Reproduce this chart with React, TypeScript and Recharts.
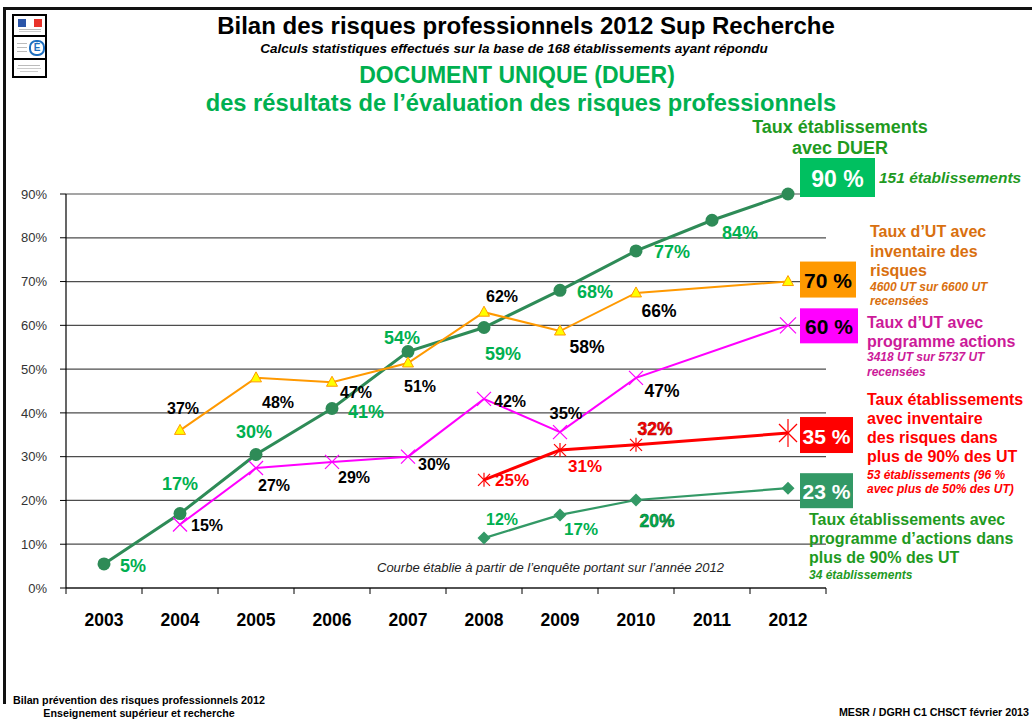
import React from 'react';
import { LineChart, Line, XAxis, YAxis, CartesianGrid, LabelList } from 'recharts';

const FONT = 'Arial, "Liberation Sans", Helvetica, sans-serif';

// ---------- data ----------
const years = [2003, 2004, 2005, 2006, 2007, 2008, 2009, 2010, 2011, 2012];
const yTicks = [0, 10, 20, 30, 40, 50, 60, 70, 80, 90];

const duerValues = [5.5, 17, 30.5, 41, 54, 59.5, 68, 77, 84, 90];
const duerLabels = ['5%', '17%', '30%', '41%', '54%', '59%', '68%', '77%', '84%', '90 %'];

const invUtValues = [null, 36, 48, 47, 51.4, 63, 58.7, 67.4, null, 70];
const invUtLabels = [null, '37%', '48%', '47%', '51%', '62%', '58%', '66%', null, '70 %'];

const progUtValues = [null, 14.5, 27.4, 28.8, 30, 43.2, 35.6, 48, null, 60];
const progUtLabels = [null, '15%', '27%', '29%', '30%', '42%', '35%', '47%', null, '60 %'];

const inv90Values = [null, null, null, null, null, 24.7, 31.5, 32.7, null, 35.4];
const inv90Labels = [null, null, null, null, null, '25%', '31%', '32%', null, '35 %'];

const prog90Values = [null, null, null, null, null, 11.4, 16.7, 20.1, null, 22.8];
const prog90Labels = [null, null, null, null, null, '12%', '17%', '20%', null, '23 %'];

const data = years.map((year, i) => ({
  year,
  duer: duerValues[i],
  duerLabel: duerLabels[i],
  invUt: invUtValues[i],
  invUtLabel: invUtLabels[i],
  progUt: progUtValues[i],
  progUtLabel: progUtLabels[i],
  inv90: inv90Values[i],
  inv90Label: inv90Labels[i],
  prog90: prog90Values[i],
  prog90Label: prog90Labels[i],
}));

// ---------- styles (label placement relative to each point) ----------
const duerOffsets = [[29, 2], [0, -30], [-2, -22], [34, 3], [-6, -14], [19, 26], [35, 2], [36, 1], [28, 13], [0, 0]];
const duerSizes = [18, 18, 18, 18, 18, 18, 18, 18, 18, 18];
const invUtOffsets = [[0, 0], [3, -22], [22, 25], [24, 10], [12, 24], [18, -16], [27, 16], [23, 18], [0, 0], [0, 0]];
const invUtSizes = [16, 16, 16, 16, 16, 16, 17.5, 17.5, 16, 16];
const progUtOffsets = [[0, 0], [27, 1], [18, 17], [22, 16], [26, 8], [26, 3], [6, -19], [26, 13], [0, 0], [0, 0]];
const progUtSizes = [16, 16, 16, 16, 16, 16, 16.5, 17.5, 16, 16];
const inv90Offsets = [[0, 0], [0, 0], [0, 0], [0, 0], [0, 0], [28, 1], [25, 16], [19, -16], [0, 0], [0, 0]];
const inv90Sizes = [16, 16, 16, 16, 16, 17, 17, 17.5, 16, 16];
const prog90Offsets = [[0, 0], [0, 0], [0, 0], [0, 0], [0, 0], [18, -19], [21, 15], [21, 21], [0, 0], [0, 0]];
const prog90Sizes = [16, 16, 16, 16, 16, 16, 17, 17.5, 16, 16];

type Box = { top: number; w: number; h: number; fill: string; color: string; size: number };

function makeLabel(
  labels: (string | null)[],
  offsets: number[][],
  sizes: number[],
  color: string,
  box: Box,
  outline?: string,
) {
  return (props: any) => {
    const { x, y, value } = props;
    if (value == null || x == null || y == null || isNaN(x) || isNaN(y)) return null;
    const i = labels.indexOf(value);
    if (i === labels.length - 1) {
      const bx = x + 12;
      const by = y + box.top;
      return (
        <g>
          <rect x={bx} y={by} width={box.w} height={box.h} fill={box.fill} />
          <text
            x={bx + box.w / 2}
            y={by + box.h / 2 + 1}
            textAnchor="middle"
            dominantBaseline="central"
            fontFamily={FONT}
            fontWeight="bold"
            fontSize={box.size}
            fill={box.color}
          >
            {value}
          </text>
        </g>
      );
    }
    const [dx, dy] = offsets[i] || [0, 0];
    return (
      <text
        x={x + dx}
        y={y + dy}
        textAnchor="middle"
        dominantBaseline="central"
        fontFamily={FONT}
        fontWeight="bold"
        fontSize={sizes[i]}
        fill={color}
        stroke={outline && i === 7 ? outline : undefined}
        strokeWidth={outline && i === 7 ? 0.5 : undefined}
      >
        {value}
      </text>
    );
  };
}

const last = years.length - 1;

const circleDot = (p: any) =>
  p.cy == null ? <g key={`c${p.index}`} /> : <circle key={`c${p.index}`} cx={p.cx} cy={p.cy} r={6.5} fill="#2E8B57" />;

const triangleDot = (p: any) => {
  if (p.cy == null) return <g key={`t${p.index}`} />;
  const { cx, cy } = p;
  return (
    <polygon
      key={`t${p.index}`}
      points={`${cx},${cy - 6} ${cx - 5.5},${cy + 4} ${cx + 5.5},${cy + 4}`}
      fill="#FFFF00"
      stroke="#FF9900"
      strokeWidth={1}
    />
  );
};

const crossDot = (p: any) => {
  if (p.cy == null) return <g key={`x${p.index}`} />;
  const { cx, cy } = p;
  const r = p.index === last ? 8 : 7;
  return (
    <g key={`x${p.index}`} stroke="#FF00FF" strokeWidth={1.2}>
      <line x1={cx - r} y1={cy - r} x2={cx + r} y2={cy + r} />
      <line x1={cx - r} y1={cy + r} x2={cx + r} y2={cy - r} />
    </g>
  );
};

const starDot = (p: any) => {
  if (p.cy == null) return <g key={`s${p.index}`} />;
  const { cx, cy } = p;
  const big = p.index === last;
  const r = big ? 9 : 6;
  const v = big ? 14 : 7;
  return (
    <g key={`s${p.index}`} stroke="#FF0000" strokeWidth={1.2}>
      <line x1={cx - r} y1={cy - r} x2={cx + r} y2={cy + r} />
      <line x1={cx - r} y1={cy + r} x2={cx + r} y2={cy - r} />
      <line x1={cx} y1={cy - v} x2={cx} y2={cy + v} />
    </g>
  );
};

const diamondDot = (p: any) => {
  if (p.cy == null) return <g key={`d${p.index}`} />;
  const { cx, cy } = p;
  return (
    <polygon
      key={`d${p.index}`}
      points={`${cx},${cy - 6.5} ${cx + 6.5},${cy} ${cx},${cy + 6.5} ${cx - 6.5},${cy}`}
      fill="#339966"
    />
  );
};

const xTicks: number[] = [];
years.forEach((y) => {
  xTicks.push(y - 0.5);
  xTicks.push(y);
});
xTicks.push(years[last] + 0.5);

const XTick = (props: any) => {
  const { x, y, payload } = props;
  const v = payload.value;
  if (Number.isInteger(v)) {
    return (
      <text x={x} y={y + 32} textAnchor="middle" dominantBaseline="central" fontFamily={FONT} fontWeight="bold" fontSize={17.5} fill="#000">
        {v}
      </text>
    );
  }
  return <line x1={x} x2={x} y1={y} y2={y + 6} stroke="#000" strokeWidth={1} />;
};

type TProps = {
  x: number;
  y: number;
  size: number;
  color?: string;
  bold?: boolean;
  italic?: boolean;
  align?: 'left' | 'center' | 'right';
  children: React.ReactNode;
};

const T = ({ x, y, size, color = '#000', bold = true, italic = false, align = 'left', children }: TProps) => {
  const style: React.CSSProperties = {
    position: 'absolute',
    top: y - size * 0.5,
    fontSize: size,
    lineHeight: `${size}px`,
    fontWeight: bold ? 'bold' : 'normal',
    fontStyle: italic ? 'italic' : 'normal',
    color,
    whiteSpace: 'nowrap',
    fontFamily: FONT,
  };
  if (align === 'center') {
    style.left = x - 400;
    style.width = 800;
    style.textAlign = 'center';
  } else if (align === 'right') {
    style.left = x - 800;
    style.width = 800;
    style.textAlign = 'right';
  } else {
    style.left = x;
  }
  return <div style={style}>{children}</div>;
};

const GREEN_T = '#1F9A1F';
const ORANGE_T = '#D9700F';
const MAGENTA_T = '#CC1A99';
const RED_T = '#FF0000';

const Logo = () => (
  <div style={{ position: 'absolute', left: 12, top: 14, width: 31, height: 60, border: '2px solid #000', background: '#fff' }}>
    <div style={{ height: 19, borderBottom: '2px solid #000', position: 'relative' }}>
      <div style={{ position: 'absolute', left: 4, top: 3, width: 8, height: 8, background: '#2B55A8' }} />
      <div style={{ position: 'absolute', left: 12, top: 3, width: 8, height: 8, background: '#fff' }} />
      <div style={{ position: 'absolute', left: 20, top: 3, width: 8, height: 8, background: '#E8332B' }} />
      <div style={{ position: 'absolute', left: 5, top: 13, width: 22, height: 1, background: '#bbb' }} />
      <div style={{ position: 'absolute', left: 5, top: 15, width: 22, height: 1, background: '#ccc' }} />
    </div>
    <div style={{ height: 21, borderBottom: '2px solid #000', position: 'relative' }}>
      <div style={{ position: 'absolute', left: 3, top: 6, width: 10, height: 1, background: '#bbb' }} />
      <div style={{ position: 'absolute', left: 3, top: 10, width: 10, height: 1, background: '#bbb' }} />
      <div style={{ position: 'absolute', left: 3, top: 14, width: 10, height: 1, background: '#bbb' }} />
      <div
        style={{
          position: 'absolute',
          left: 15,
          top: 3,
          width: 12,
          height: 12,
          borderRadius: 7,
          border: '2px solid #1E6FC0',
          color: '#1E6FC0',
          fontSize: 10,
          lineHeight: '12px',
          textAlign: 'center',
          fontWeight: 'bold',
          fontFamily: FONT,
        }}
      >
        É
      </div>
    </div>
    <div style={{ position: 'relative', height: 14 }}>
      <div style={{ position: 'absolute', left: 4, top: 5, width: 22, height: 1, background: '#bbb' }} />
      <div style={{ position: 'absolute', left: 3, top: 8, width: 24, height: 1, background: '#ccc' }} />
      <div style={{ position: 'absolute', left: 6, top: 11, width: 18, height: 1, background: '#ccc' }} />
    </div>
  </div>
);

export default function App() {
  return (
    <div style={{ position: 'absolute', left: 0, top: 0, width: 1032, height: 720, background: '#fff', fontFamily: FONT, overflow: 'hidden' }}>
      {/* frame */}
      <div style={{ position: 'absolute', left: 3, top: 7, width: 1029, height: 3, background: '#111' }} />
      <div style={{ position: 'absolute', left: 3, top: 7, width: 3, height: 697, background: '#111' }} />

      <div style={{ position: 'absolute', left: 0, top: 0 }}>
        <LineChart width={1032} height={720} data={data} margin={{ top: 194, right: 206, left: 0, bottom: 92 }}>
          <CartesianGrid vertical={false} stroke="#4d4d4d" strokeWidth={1.2} />
          <XAxis
            dataKey="year"
            type="number"
            domain={[years[0] - 0.5, years[last] + 0.5]}
            ticks={xTicks}
            interval={0}
            tickLine={false}
            tickSize={0}
            tickMargin={0}
            height={40}
            axisLine={{ stroke: '#000', strokeWidth: 1.2 }}
            tick={<XTick />}
          />
          <YAxis
            type="number"
            domain={[0, 90]}
            ticks={yTicks}
            interval={0}
            width={66}
            tickSize={6}
            tickMargin={13}
            tickFormatter={(v: number) => `${v}%`}
            axisLine={{ stroke: '#000', strokeWidth: 1.2 }}
            tickLine={{ stroke: '#000' }}
            tick={{ fontSize: 13, fill: '#333', fontFamily: FONT }}
          />
          <Line
            dataKey="duer"
            stroke="#2E8B57"
            strokeWidth={3}
            dot={circleDot}
            activeDot={false}
            isAnimationActive={false}
          >
            <LabelList
              dataKey="duerLabel"
              content={makeLabel(duerLabels, duerOffsets, duerSizes, '#00B050', { top: -36, w: 75, h: 39, fill: '#00C060', color: '#fff', size: 23 })}
            />
          </Line>
          <Line
            dataKey="invUt"
            stroke="#FF9900"
            strokeWidth={2}
            connectNulls
            dot={triangleDot}
            activeDot={false}
            isAnimationActive={false}
          >
            <LabelList
              dataKey="invUtLabel"
              content={makeLabel(invUtLabels, invUtOffsets, invUtSizes, '#000', { top: -20, w: 56, h: 36, fill: '#FF9900', color: '#000', size: 21 })}
            />
          </Line>
          <Line
            dataKey="progUt"
            stroke="#FF00FF"
            strokeWidth={2}
            connectNulls
            dot={crossDot}
            activeDot={false}
            isAnimationActive={false}
          >
            <LabelList
              dataKey="progUtLabel"
              content={makeLabel(progUtLabels, progUtOffsets, progUtSizes, '#000', { top: -17, w: 58, h: 35, fill: '#FF00FF', color: '#000', size: 21 })}
            />
          </Line>
          <Line
            dataKey="inv90"
            stroke="#FF0000"
            strokeWidth={3}
            connectNulls
            dot={starDot}
            activeDot={false}
            isAnimationActive={false}
          >
            <LabelList
              dataKey="inv90Label"
              content={makeLabel(inv90Labels, inv90Offsets, inv90Sizes, '#FF0000', { top: -16, w: 53, h: 36, fill: '#FF0000', color: '#fff', size: 21 }, '#990000')}
            />
          </Line>
          <Line
            dataKey="prog90"
            stroke="#339966"
            strokeWidth={2.2}
            connectNulls
            dot={diamondDot}
            activeDot={false}
            isAnimationActive={false}
          >
            <LabelList
              dataKey="prog90Label"
              content={makeLabel(prog90Labels, prog90Offsets, prog90Sizes, '#00B050', { top: -15, w: 53, h: 35, fill: '#339966', color: '#fff', size: 21 }, '#006622')}
            />
          </Line>
        </LineChart>
      </div>

      <Logo />

      {/* titles */}
      <T x={526} y={26} size={24} align="center">Bilan des risques professionnels 2012 Sup Recherche</T>
      <T x={514} y={49} size={13.5} italic align="center">Calculs statistiques effectués sur la base de 168 établissements ayant répondu</T>
      <T x={517} y={75} size={23} color="#00B050" align="center">DOCUMENT UNIQUE (DUER)</T>
      <T x={521} y={104} size={23.7} color="#00B050" align="center">des résultats de l’évaluation des risques professionnels</T>

      {/* DUER legend */}
      <T x={840} y={127} size={18} color={GREEN_T} align="center">Taux établissements</T>
      <T x={840} y={148} size={18} color={GREEN_T} align="center">avec DUER</T>
      <T x={879} y={178} size={15.5} color={GREEN_T} italic>151 établissements</T>

      {/* orange legend */}
      <T x={870} y={232} size={16} color={ORANGE_T}>Taux d’UT avec</T>
      <T x={870} y={252} size={16} color={ORANGE_T}>inventaire des</T>
      <T x={870} y={271} size={16} color={ORANGE_T}>risques</T>
      <T x={870} y={287} size={12} color={ORANGE_T} italic>4600 UT sur 6600 UT</T>
      <T x={870} y={301} size={12} color={ORANGE_T} italic>recensées</T>

      {/* magenta legend */}
      <T x={867} y={323} size={16} color={MAGENTA_T}>Taux d’UT avec</T>
      <T x={867} y={342} size={16} color={MAGENTA_T}>programme actions</T>
      <T x={867} y={357} size={12} color={MAGENTA_T} italic>3418 UT sur 5737 UT</T>
      <T x={867} y={372} size={12} color={MAGENTA_T} italic>recensées</T>

      {/* red legend */}
      <T x={867} y={400} size={16} color={RED_T}>Taux établissements</T>
      <T x={867} y={419} size={16} color={RED_T}>avec inventaire</T>
      <T x={867} y={438} size={16} color={RED_T}>des risques dans</T>
      <T x={867} y={457} size={16} color={RED_T}>plus de 90% des UT</T>
      <T x={867} y={475} size={12} color={RED_T} italic>53 établissements (96 %</T>
      <T x={867} y={489} size={12} color={RED_T} italic>avec plus de 50% des UT)</T>

      {/* dark green legend */}
      <T x={809} y={520} size={16} color={GREEN_T}>Taux établissements avec</T>
      <T x={809} y={539} size={16} color={GREEN_T}>programme d’actions dans</T>
      <T x={809} y={558} size={16} color={GREEN_T}>plus de 90% des UT</T>
      <T x={809} y={575} size={12} color={GREEN_T} italic>34 établissements</T>

      {/* note */}
      <T x={377} y={567} size={13} color="#222" bold={false} italic>Courbe établie à partir de l’enquête portant sur l’année 2012</T>

      {/* footer */}
      <T x={13} y={700} size={10.7}>Bilan prévention des risques professionnels 2012</T>
      <T x={139} y={713} size={10.7} align="center">Enseignement supérieur et recherche</T>
      <T x={1029} y={712} size={10.7} align="right">MESR / DGRH C1 CHSCT février 2013</T>
    </div>
  );
}
